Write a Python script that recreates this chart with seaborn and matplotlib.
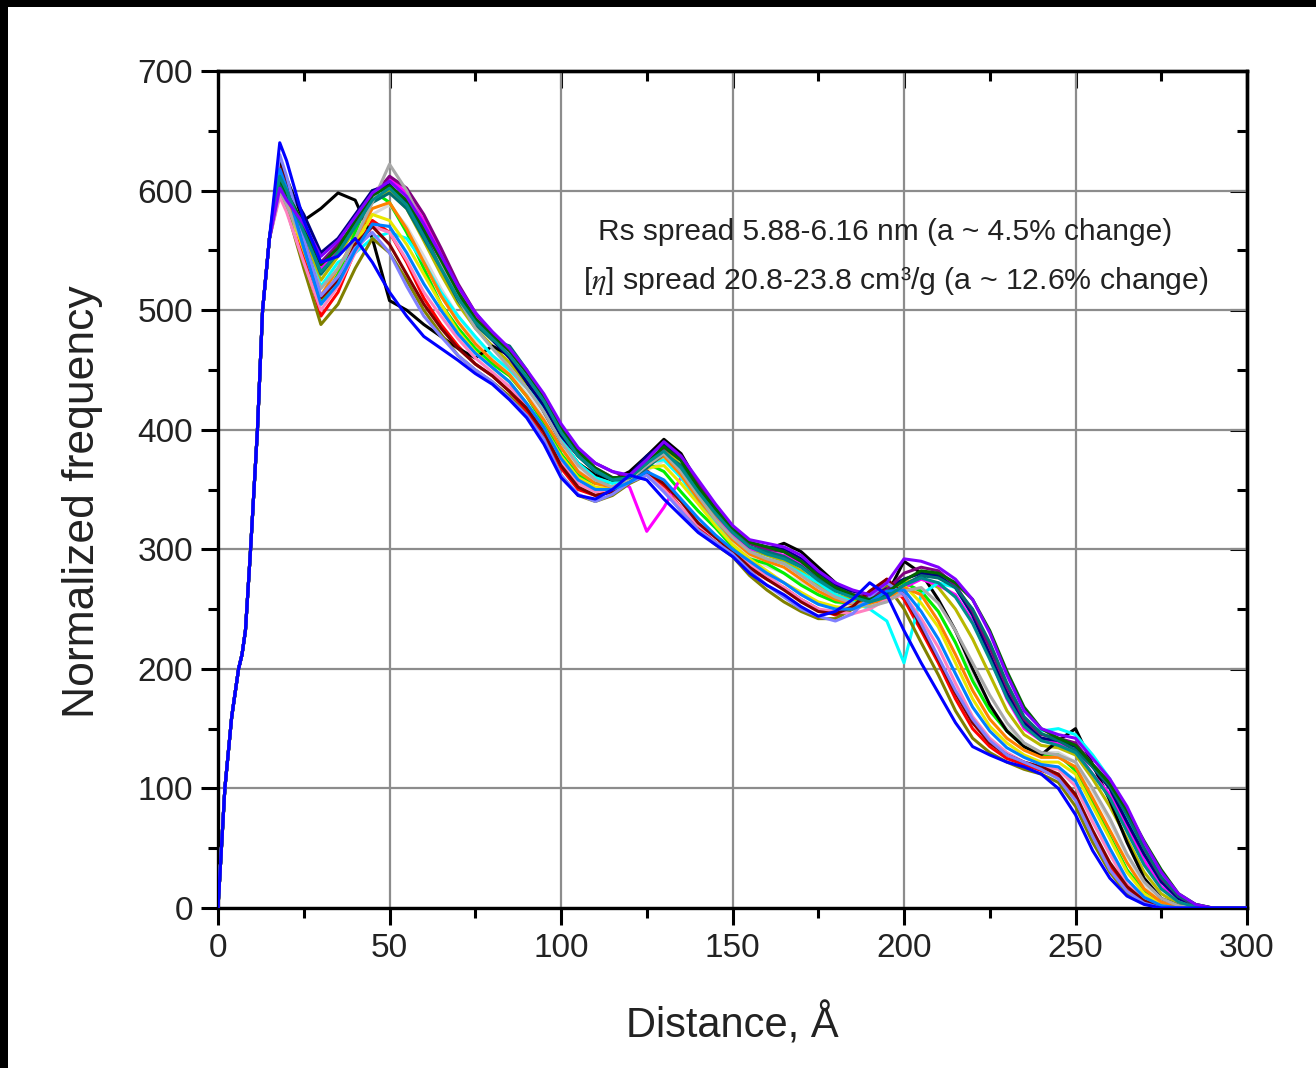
import numpy as np
import pandas as pd
import matplotlib
matplotlib.use("Agg")
import matplotlib.pyplot as plt
from matplotlib.patches import Rectangle
from matplotlib.ticker import MultipleLocator
import seaborn as sns

# ---------------- data ----------------
rise_x = [0, 1, 2, 4, 6, 7, 7.5, 8, 9.5, 11.5, 13, 15]
rise_y = [0, 50, 100, 160, 200, 212, 222, 232, 300, 400, 500, 560]

curve_x = [18, 20, 25, 30, 35, 40, 45, 50, 55, 60,
           65, 70, 75, 80, 85, 90, 95, 100, 105, 110,
           115, 120, 125, 130, 135, 140, 145, 150, 155, 160,
           165, 170, 175, 180, 185, 190, 195, 200, 205, 210,
           215, 220, 225, 230, 235, 240, 245, 250, 255, 260,
           265, 270, 275, 280, 285, 290, 295, 300]

c_red = [615, 600, 545, 495, 515, 550, 575, 565, 540, 510,
         488, 470, 455, 445, 432, 415, 395, 368, 350, 345,
         348, 358, 366, 352, 335, 318, 306, 296, 284, 275,
         268, 258, 250, 245, 250, 262, 275, 258, 232, 205,
         175, 150, 135, 125, 120, 115, 110, 92, 62, 35,
         15, 5, 1, 0, 0, 0, 0, 0]
c_green = [610, 595, 555, 505, 530, 565, 600, 590, 565, 535,
           505, 485, 468, 455, 445, 428, 405, 380, 362, 355,
           356, 362, 372, 365, 348, 332, 318, 302, 292, 288,
           280, 270, 262, 256, 255, 258, 262, 272, 265, 248,
           222, 190, 165, 148, 135, 128, 128, 115, 88, 60,
           32, 14, 4, 1, 0, 0, 0, 0]
c_black = [625, 610, 575, 585, 598, 592, 560, 508, 500, 488,
           478, 468, 460, 470, 462, 440, 415, 390, 372, 362,
           358, 365, 378, 392, 380, 355, 335, 318, 305, 300,
           305, 298, 285, 272, 262, 255, 262, 290, 280, 258,
           232, 200, 170, 148, 135, 128, 140, 150, 120, 90,
           55, 25, 8, 2, 0, 0, 0, 0]
c_magenta = [600, 590, 565, 535, 550, 575, 598, 610, 598, 575,
             548, 518, 495, 478, 462, 442, 422, 398, 380, 368,
             360, 352, 315, 335, 360, 350, 330, 312, 300, 298,
             295, 288, 275, 268, 262, 258, 262, 268, 275, 270,
             262, 240, 210, 175, 150, 140, 138, 132, 112, 95,
             68, 40, 18, 6, 1, 0, 0, 0]
c_cyan = [605, 590, 555, 520, 540, 548, 560, 565, 560, 540,
          515, 495, 478, 462, 450, 435, 418, 392, 372, 360,
          355, 360, 372, 375, 360, 340, 322, 308, 298, 292,
          288, 280, 272, 262, 256, 250, 240, 205, 262, 272,
          268, 245, 212, 178, 155, 148, 150, 145, 128, 108,
          75, 45, 22, 8, 2, 0, 0, 0]
c_yellow = [605, 590, 550, 510, 525, 555, 580, 575, 555, 530,
            505, 482, 465, 452, 440, 422, 402, 378, 360, 352,
            350, 356, 368, 370, 355, 338, 320, 304, 292, 282,
            272, 264, 256, 252, 250, 254, 265, 270, 255, 235,
            205, 175, 152, 138, 128, 122, 122, 112, 85, 58,
            30, 12, 3, 0, 0, 0, 0, 0]
c_navy = [615, 605, 580, 548, 560, 580, 600, 605, 590, 565,
          540, 512, 490, 475, 460, 440, 420, 395, 378, 365,
          358, 362, 378, 388, 375, 352, 332, 316, 305, 302,
          300, 292, 280, 270, 265, 262, 268, 275, 280, 278,
          268, 245, 212, 180, 155, 142, 140, 135, 118, 100,
          72, 45, 22, 8, 2, 0, 0, 0]
c_olive = [598, 585, 535, 488, 505, 535, 560, 548, 525, 500,
           480, 462, 450, 440, 428, 412, 392, 362, 345, 340,
           345, 355, 362, 350, 332, 316, 304, 294, 278, 266,
           256, 248, 242, 242, 250, 262, 270, 250, 222, 195,
           165, 142, 130, 122, 116, 112, 105, 85, 55, 30,
           12, 4, 0, 0, 0, 0, 0, 0]
c_purple = [605, 595, 570, 540, 555, 572, 595, 612, 602, 580,
            552, 522, 498, 480, 466, 448, 428, 402, 384, 372,
            365, 360, 370, 385, 375, 355, 335, 318, 305, 300,
            298, 290, 278, 268, 262, 260, 266, 280, 285, 282,
            270, 248, 218, 185, 158, 145, 142, 138, 120, 105,
            80, 50, 25, 10, 2, 0, 0, 0]
c_orange = [612, 598, 552, 512, 535, 560, 585, 590, 568, 540,
            512, 490, 472, 458, 446, 428, 408, 385, 365, 355,
            352, 358, 370, 378, 362, 342, 325, 308, 296, 290,
            285, 275, 265, 258, 254, 255, 258, 268, 262, 240,
            212, 182, 158, 142, 132, 126, 126, 118, 92, 65,
            38, 16, 5, 1, 0, 0, 0, 0]
c_pink = [595, 582, 540, 500, 520, 548, 570, 565, 542, 515,
          495, 476, 460, 448, 436, 420, 398, 372, 355, 348,
          350, 358, 362, 350, 335, 320, 310, 300, 288, 278,
          268, 258, 250, 248, 246, 250, 258, 262, 242, 218,
          188, 160, 142, 130, 122, 118, 116, 102, 72, 45,
          20, 7, 1, 0, 0, 0, 0, 0]
c_teal = [608, 595, 568, 530, 548, 570, 590, 598, 585, 560,
          535, 508, 488, 475, 470, 450, 425, 398, 378, 365,
          358, 358, 368, 380, 370, 350, 332, 315, 302, 298,
          294, 286, 275, 266, 260, 256, 262, 270, 278, 276,
          268, 250, 222, 188, 160, 146, 140, 132, 118, 102,
          78, 50, 26, 10, 3, 0, 0, 0]
c_gray = [600, 588, 555, 518, 535, 560, 590, 622, 600, 570,
          540, 510, 485, 468, 452, 435, 415, 390, 370, 358,
          352, 358, 370, 380, 365, 345, 325, 310, 298, 292,
          288, 278, 268, 260, 255, 252, 256, 265, 268, 255,
          232, 205, 178, 155, 138, 130, 128, 122, 100, 75,
          45, 22, 8, 2, 0, 0, 0, 0]
c_wine = [620, 605, 560, 510, 525, 555, 570, 555, 530, 505,
          485, 468, 455, 445, 432, 418, 398, 370, 352, 345,
          348, 356, 365, 355, 340, 322, 310, 298, 285, 275,
          266, 256, 248, 246, 252, 265, 275, 262, 235, 208,
          180, 155, 138, 128, 122, 118, 112, 95, 65, 38,
          18, 6, 1, 0, 0, 0, 0, 0]
c_violet = [602, 592, 572, 545, 558, 578, 598, 608, 595, 572,
            546, 520, 498, 482, 468, 450, 430, 405, 385, 372,
            365, 362, 375, 390, 378, 358, 338, 320, 308, 305,
            302, 295, 282, 272, 266, 262, 272, 292, 290, 285,
            275, 258, 230, 195, 165, 150, 145, 142, 125, 108,
            85, 55, 30, 12, 3, 0, 0, 0]
c_dyellow = [603, 592, 560, 525, 545, 568, 592, 600, 585, 558,
             530, 505, 485, 470, 456, 438, 418, 392, 372, 362,
             356, 360, 374, 384, 370, 348, 328, 312, 300, 295,
             290, 282, 270, 262, 258, 256, 262, 272, 276, 268,
             250, 225, 195, 165, 145, 136, 134, 128, 108, 85,
             58, 30, 12, 3, 0, 0, 0, 0]
c_lblue = [630, 612, 560, 512, 528, 552, 565, 548, 520, 495,
           478, 462, 450, 440, 426, 412, 392, 362, 346, 340,
           346, 356, 362, 348, 332, 316, 306, 296, 282, 270,
           260, 250, 244, 240, 246, 260, 272, 262, 238, 210,
           182, 158, 140, 128, 122, 116, 108, 90, 60, 32,
           14, 4, 0, 0, 0, 0, 0, 0]
c_dgreen = [610, 598, 572, 538, 552, 575, 596, 604, 592, 568,
            542, 515, 493, 478, 466, 448, 428, 402, 382, 368,
            360, 360, 372, 386, 374, 352, 334, 318, 306, 302,
            298, 290, 278, 268, 262, 258, 264, 274, 282, 280,
            272, 258, 232, 198, 168, 150, 142, 136, 120, 104,
            82, 56, 32, 12, 3, 0, 0, 0]
c_lgray = [598, 585, 548, 512, 530, 556, 580, 588, 570, 545,
           518, 495, 476, 462, 448, 430, 410, 386, 366, 356,
           352, 356, 366, 374, 360, 340, 322, 306, 294, 286,
           280, 272, 262, 256, 252, 252, 258, 268, 264, 248,
           222, 195, 168, 150, 138, 130, 130, 122, 98, 72,
           44, 20, 6, 1, 0, 0, 0, 0]
c_royal = [618, 602, 552, 505, 522, 550, 572, 570, 548, 522,
           500, 480, 464, 452, 440, 422, 402, 376, 358, 350,
           350, 356, 365, 358, 342, 326, 312, 300, 290, 280,
           272, 262, 254, 250, 250, 256, 265, 266, 248, 225,
           196, 168, 148, 134, 126, 120, 118, 106, 78, 50,
           24, 9, 2, 0, 0, 0, 0, 0]
c_dcyan = [612, 600, 565, 532, 548, 570, 592, 602, 588, 562,
           535, 510, 490, 476, 462, 444, 424, 398, 378, 366,
           358, 360, 372, 382, 368, 348, 330, 314, 302, 296,
           292, 285, 274, 265, 260, 256, 260, 270, 276, 272,
           260, 238, 208, 176, 152, 140, 136, 130, 112, 92,
           64, 36, 16, 5, 1, 0, 0, 0]
c_blue = [640, 625, 575, 540, 545, 560, 540, 515, 495, 478,
          468, 458, 447, 438, 425, 410, 388, 360, 345, 342,
          350, 362, 358, 342, 328, 314, 304, 294, 280, 270,
          262, 252, 244, 248, 258, 272, 262, 232, 205, 180,
          155, 135, 128, 122, 118, 112, 100, 78, 48, 25,
          10, 3, 0, 0, 0, 0, 0, 0]

curves = {
    "lgray": c_lgray, "dyellow": c_dyellow, "red": c_red, "green": c_green,
    "black": c_black, "magenta": c_magenta, "cyan": c_cyan, "yellow": c_yellow,
    "navy": c_navy, "olive": c_olive, "purple": c_purple, "orange": c_orange,
    "pink": c_pink, "teal": c_teal, "gray": c_gray, "wine": c_wine,
    "lblue": c_lblue, "dgreen": c_dgreen, "royal": c_royal, "dcyan": c_dcyan,
    "violet": c_violet, "blue": c_blue,
}
palette = {
    "red": "#FF0000", "green": "#00F000", "black": "#000000", "magenta": "#FF00FF",
    "cyan": "#00FFFF", "yellow": "#E8E800", "navy": "#000080", "olive": "#808000",
    "purple": "#800080", "orange": "#FF8000", "pink": "#FF80C0", "teal": "#007070",
    "gray": "#A8A8A8", "wine": "#800000", "violet": "#8000FF", "blue": "#0000FF",
    "dyellow": "#B8B800", "lblue": "#8080FF", "dgreen": "#006400", "lgray": "#D8D8D8",
    "royal": "#0080FF", "dcyan": "#008B8B",
}

rows = []
for name, vals in curves.items():
    for xv, yv in zip(rise_x + curve_x, rise_y + vals):
        rows.append((name, xv, yv))
df = pd.DataFrame(rows, columns=["curve", "x", "y"])

xticks = [0, 50, 100, 150, 200, 250, 300]
yticks = [0, 100, 200, 300, 400, 500, 600, 700]

# ---------------- style ----------------
sns.set_theme(style="white")
plt.rcParams["font.family"] = ["Liberation Sans", "DejaVu Sans"]
plt.rcParams["mathtext.fontset"] = "stix"

fig = plt.figure(figsize=(13.16, 10.68), dpi=100)
fig.patch.set_facecolor("white")
ax = fig.add_axes([218 / 1316, 1 - 908 / 1068, (1247 - 218) / 1316, (908 - 71) / 1068])

sns.lineplot(data=df, x="x", y="y", hue="curve", hue_order=list(curves.keys()),
             palette=palette, legend=False, estimator=None, sort=False,
             linewidth=2.2, ax=ax, zorder=3)

ax.set_xlim(0, 300)
ax.set_ylim(0, 700)
ax.set_xticks(xticks)
ax.set_yticks(yticks)
ax.xaxis.set_minor_locator(MultipleLocator(25))
ax.yaxis.set_minor_locator(MultipleLocator(50))
ax.grid(True, which="major", color="#8c8c8c", linewidth=1.6, zorder=0)
ax.set_axisbelow(True)

for sp in ax.spines.values():
    sp.set_visible(True)
    sp.set_color("black")
    sp.set_linewidth(2.4)

ax.tick_params(axis="both", which="major", direction="out", length=12, width=2.2,
               colors="black", labelsize=24, pad=6, labelcolor="#222222",
               bottom=True, left=True, top=False, right=False)
ax.tick_params(axis="both", which="minor", direction="out", length=7, width=2.2,
               colors="black", bottom=True, left=True, top=False, right=False)

# inward ticks on the top and right edges
top = ax.secondary_xaxis("top")
top.set_xticks(xticks)
top.xaxis.set_minor_locator(MultipleLocator(25))
top.tick_params(which="major", direction="in", length=12, width=2.2, colors="black",
                top=True, bottom=False, labeltop=False, labelbottom=False)
top.tick_params(which="minor", direction="in", length=7, width=2.2, colors="black",
                top=True, bottom=False)
top.spines["top"].set_linewidth(2.4)
top.spines["top"].set_color("black")
right = ax.secondary_yaxis("right")
right.set_yticks(yticks)
right.yaxis.set_minor_locator(MultipleLocator(50))
right.tick_params(which="major", direction="in", length=12, width=2.2, colors="black",
                  right=True, left=False, labelright=False, labelleft=False)
right.tick_params(which="minor", direction="in", length=7, width=2.2, colors="black",
                  right=True, left=False)
right.spines["right"].set_linewidth(2.4)
right.spines["right"].set_color("black")

ax.set_xlabel("Distance, Å", fontsize=30, labelpad=28, color="#222222")
ax.set_ylabel("Normalized frequency", fontsize=32, labelpad=22, color="#222222")
ax.yaxis.set_label_coords(-0.112, 0.486)

ax.text(0.369, 0.808, "Rs spread 5.88-6.16 nm (a ~ 4.5% change)",
        transform=ax.transAxes, fontsize=21.5, color="#222222", va="center")
ax.text(0.355, 0.750, "[$\\eta$] spread 20.8-23.8 cm³/g (a ~ 12.6% change)",
        transform=ax.transAxes, fontsize=21.8, color="#222222", va="center")

# black frame strips at top and left of the image
fig.patches.append(Rectangle((0, 1 - 7 / 1068), 1, 7 / 1068, transform=fig.transFigure,
                             facecolor="black", edgecolor="none", zorder=10))
fig.patches.append(Rectangle((0, 0), 8 / 1316, 1, transform=fig.transFigure,
                             facecolor="black", edgecolor="none", zorder=10))

fig.savefig("out.png", dpi=100, facecolor="white")
